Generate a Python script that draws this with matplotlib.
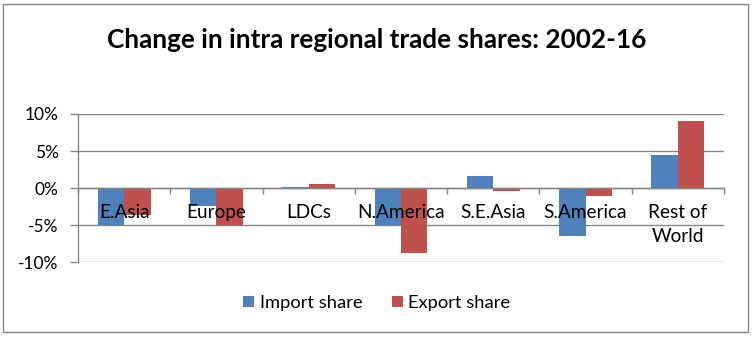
import matplotlib.pyplot as plt
from matplotlib.patches import Rectangle
from matplotlib.ticker import FuncFormatter
import numpy as np

plt.rcParams['font.family'] = ['Lato', 'DejaVu Sans']

regions = ['E.Asia', 'Europe', 'LDCs', 'N.America', 'S.E.Asia', 'S.America', 'Rest of\nWorld']
import_share = [-5.0, -2.4, 0.2, -5.0, 1.6, -6.5, 4.5]
export_share = [-3.6, -5.0, 0.6, -8.7, -0.4, -1.1, 9.1]
y_ticks = [-10, -5, 0, 5, 10]

BLUE = '#4F81BD'
RED = '#C0504D'
GRID = '#868686'

fig = plt.figure(figsize=(7.54, 3.39), dpi=100)
ax = fig.add_axes([78/754, 1 - 262.3/339, (724 - 78)/754, (262.3 - 114)/339])

x = np.arange(len(regions))
w = 1/3.5
ax.bar(x - w/2, import_share, w, color=BLUE, label='Import share', zorder=2)
ax.bar(x + w/2, export_share, w, color=RED, label='Export share', zorder=2)

ax.set_xlim(-0.5, len(regions) - 0.5)
ax.set_ylim(-10, 10)
ax.set_yticks(y_ticks)
ax.yaxis.set_major_formatter(FuncFormatter(lambda v, p: f'{v:.0f}%'))
ax.grid(axis='y', color=GRID, lw=1, zorder=0)
ax.tick_params(axis='y', length=6, width=1, color=GRID, labelsize=12.5, pad=8)

# category axis sits on the zero line
ax.spines['bottom'].set_position(('data', 0))
for s in ['top', 'right']:
    ax.spines[s].set_visible(False)
for s in ['left', 'bottom']:
    ax.spines[s].set_color(GRID)
    ax.spines[s].set_linewidth(1)
ax.set_xticks(np.arange(len(regions) + 1) - 0.5)
ax.set_xticklabels([])
ax.tick_params(axis='x', length=4, width=1, color=GRID)
for i, name in enumerate(regions):
    ax.annotate(name, (i, 0), xytext=(0, -16), textcoords='offset pixels',
                ha='center', va='top', fontsize=13.7, linespacing=1.5, zorder=5)

fig.text(0.5, 1 - 40/339, 'Change in intra regional trade shares: 2002-16',
         ha='center', va='center', fontsize=18.8, fontweight='bold')

fig.legend(loc='center', bbox_to_anchor=(0.5, 1 - 303/339), ncol=2, frameon=False,
           fontsize=13.2, handlelength=0.6, handleheight=0.6, handletextpad=0.3,
           columnspacing=1.6)

fig.add_artist(Rectangle((3/754, 1 - 332/339), 745/754, 328/339, transform=fig.transFigure,
                         fill=False, edgecolor=GRID, lw=1))

fig.savefig('out.png', dpi=100)
